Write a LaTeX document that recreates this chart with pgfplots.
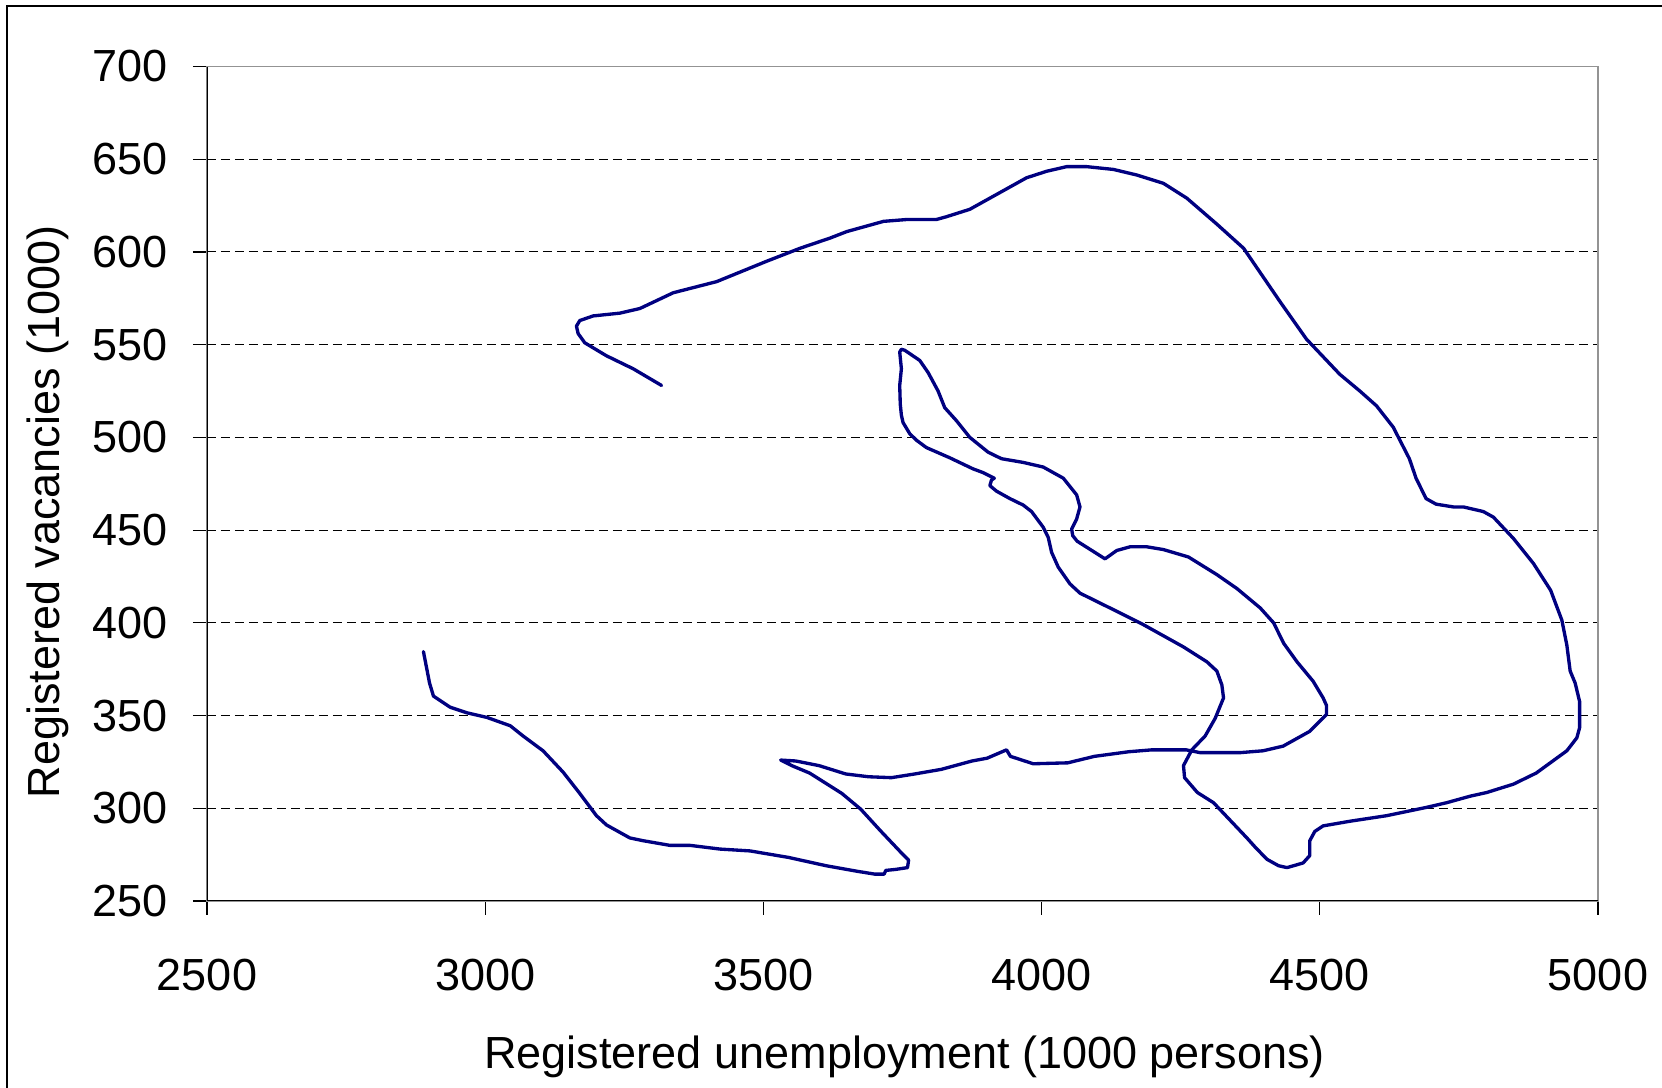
\documentclass[border=0pt]{standalone}
\usepackage{fontspec}
\setmainfont{Liberation Sans}
\usepackage{pgfplots}
\pgfplotsset{compat=1.18}
\definecolor{curve}{RGB}{0,0,128}
\begin{document}
\begin{tikzpicture}
\useasboundingbox (-62.1pt,-56.1pt) rectangle (436.5pt,270.3pt);
\draw[black, line width=0.45pt] (-60pt,-60pt) -- (-60pt,268.5pt) -- (440pt,268.5pt);
\begin{axis}[
  at={(0,0)}, anchor=south west,
  scale only axis, width=417.3pt, height=250.35pt,
  xmin=2500, xmax=5000, ymin=250, ymax=700,
  xtick={2500,3000,...,5000}, ytick={250,300,...,700},
  font=\fontsize{13.5}{16}\selectfont,
  /pgf/number format/assume math mode=true,
  /pgf/number format/1000 sep={},
  tick align=outside, xtick pos=bottom, ytick pos=left,
  major tick length=4.2pt,
  tick style={black, line width=0.35pt},
  axis line style={draw=gray!85, line width=0.45pt},
  ymajorgrids, grid style={black, line width=0.3pt, dash pattern=on 2.6pt off 1.6pt},
  xticklabel style={anchor=center, inner sep=0pt, yshift=-18pt},
  yticklabel style={anchor=east, inner sep=0pt, xshift=-7.4pt},
]
\addplot[curve, line width=1.0pt, line join=round, line cap=round] coordinates {
(3317,528) (3266,537) (3218,544) (3179,551) (3167,556) (3164,560) (3170,563)
(3194,565.5) (3242,567) (3278,569.5) (3338,578) (3416,584) (3506,595) (3566,602)
(3620,607.5) (3650,611) (3716,616.5) (3758,617.5) (3811,617.5) (3829,619)
(3871,623) (3925,632) (3973,640) (4009,643.5) (4045,646) (4081,646) (4129,644.5)
(4171,641.5) (4219,637) (4261,629) (4315,615) (4363,602) (4429,573) (4476,553)
(4536,534) (4572,525) (4602,517) (4632,505.5) (4661,488.5) (4673,478) (4691,467)
(4709,464) (4740,462.5) (4758,462.5) (4794,460) (4812,457) (4848,445.5) (4884,432)
(4915,417.5) (4935,401.5) (4944,388) (4950,374) (4959,367.5) (4967,357.5)
(4967,343.5) (4962,338) (4944,331) (4889,319) (4848,313) (4800,308.5) (4770,306.5)
(4728,303) (4692,300.5) (4620,296) (4554,293) (4506,290.5) (4491,287.5)
(4482,282.5) (4482,274.5) (4470,270.5) (4441,268) (4426,269) (4405,272.5)
(4384,279) (4369,284) (4309,303) (4280,308.5) (4257,316.5) (4255,323)
(4270,331.5) (4294,339) (4312,348.5) (4327,359.5) (4324,366.5) (4315,374)
(4297,379) (4255,387) (4183,399) (4123,408) (4069,416) (4051,421) (4030,430)
(4018,438) (4012,446) (4003,451.5) (3982,460) (3967,463.5) (3943,467) (3919,471)
(3907,474) (3910,477) (3915,478) (3895,481) (3877,483) (3835,489) (3793,494.5)
(3775,498.5) (3763,502) (3751,508) (3748,512) (3746,518) (3745,528) (3748,537)
(3745,546) (3748,547.5) (3754,547) (3781,541.5) (3796,535) (3814,525) (3826,516)
(3847,509) (3871,500) (3904,492) (3928,488.5) (3967,486.5) (4003,484) (4039,478)
(4063,469) (4069,462.5) (4063,456) (4054,450.5) (4056,447) (4064,444) (4093,438.5)
(4114,434.5) (4135,439) (4159,441) (4189,441) (4219,439.5) (4264,435.5) (4315,426)
(4351,418.5) (4393,408) (4417,400) (4435,389) (4459,379) (4488,368.5) (4506,359.5)
(4512,355.5) (4512,350.5) (4482,341.5) (4434,333.5) (4398,331) (4357,330)
(4285,330) (4260,331.5) (4198,331.5) (4157,330.5) (4095,328) (4047,324.5)
(3985,324) (3944,328) (3937,331.5) (3902,327) (3875,325.5) (3820,321) (3772,318.5)
(3730,316.5) (3689,317) (3648,318.5) (3600,323) (3558,325.5) (3531,326)
(3551,323) (3583,319) (3620,312) (3641,308) (3675,299.5) (3710,288) (3751,275)
(3761,272) (3759,268) (3737,267) (3720,266.5) (3717,264.5) (3700,264.5)
(3669,266) (3613,269) (3545,273.5) (3476,277) (3422,278) (3368,280) (3332,280)
(3284,282.5) (3260,284) (3218,291) (3200,296) (3170,308) (3140,319.5) (3104,331)
(3068,339) (3045,344.5) (3003,349) (2967,351.5) (2937,354.5) (2907,360.5)
(2900,367.5) (2889,384.5)
};
\draw[black, line width=0.45pt] (rel axis cs:0,1) -- (rel axis cs:0,0) -- (rel axis cs:1,0);
\end{axis}
\node[anchor=base, inner sep=0pt, font=\fontsize{13.5}{16}\selectfont] at (209.3pt,-50.2pt) {Registered unemployment (1000 persons)};
\node[anchor=center, rotate=90, font=\fontsize{13.5}{16}\selectfont] at (-47.6pt,116.7pt) {Registered vacancies (1000)};
\end{tikzpicture}
\end{document}
